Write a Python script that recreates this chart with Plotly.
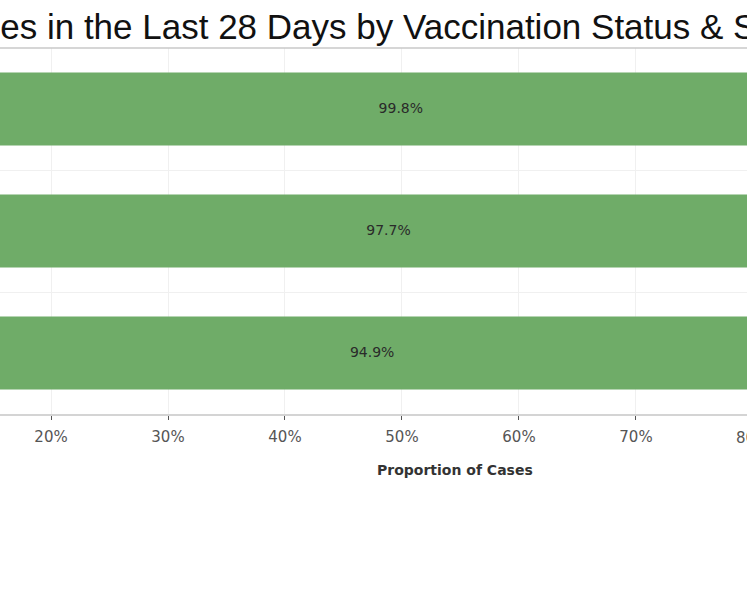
import plotly.graph_objects as go

groups = ["Group A", "Group B", "Group C"]
proportion = [99.8, 97.7, 94.9]
labels = ["99.8%", "97.7%", "94.9%"]

tick_vals = [20, 30, 40, 50, 60, 70, 80]
tick_text = ["20%", "30%", "40%", "50%", "60%", "70%", "80%"]

title_text = "Cases in the Last 28 Days by Vaccination Status & Sex"

# visible window of the x axis (the bars start at 0 off the left edge)
x_range = [15.64, 79.49]

bar_green = "#6FAC68"

fig = go.Figure()
fig.add_trace(go.Bar(
    y=groups, x=proportion, orientation="h",
    marker=dict(color=bar_green, line=dict(width=0)),
    hoverinfo="skip", showlegend=False,
))
# labels centred on the full bars
fig.add_trace(go.Scatter(
    y=groups, x=[v / 2 for v in proportion], mode="text",
    text=labels, textposition="middle center",
    textfont=dict(family="DejaVu Sans", size=14, color="#2a2a2a"),
    hoverinfo="skip", showlegend=False,
))

visible_ticks = [v for v in tick_vals if x_range[0] <= v <= x_range[1]]
fig.update_xaxes(
    range=x_range,
    tickvals=visible_ticks,
    ticktext=[tick_text[tick_vals.index(v)] for v in visible_ticks],
    ticks="outside", ticklen=4, tickcolor="#555555", tickwidth=1,
    ticklabelstandoff=4,
    tickfont=dict(family="DejaVu Sans", size=15, color="#555555"),
    showgrid=True, gridcolor="#f0f0f0", gridwidth=1,
    showline=True, linecolor="#d4d4d4", linewidth=2,
    zeroline=False, fixedrange=True,
)
fig.update_yaxes(
    type="category", autorange="reversed",
    tickson="boundaries", ticks="", showticklabels=False,
    showgrid=True, gridcolor="#f0f0f0", gridwidth=1,
    showline=False, zeroline=False, fixedrange=True,
)

# tick label that is cut by the right edge, placed through the axis mapping
cut_ticks = [v for v in tick_vals if v > x_range[1]]
annotations = []
for v in cut_ticks:
    annotations.append(dict(
        xref="paper", yref="paper",
        x=(v - x_range[0]) / (x_range[1] - x_range[0]), y=0,
        xanchor="center", yanchor="top", yshift=-13,
        text=tick_text[tick_vals.index(v)], showarrow=False,
        font=dict(family="DejaVu Sans", size=15, color="#555555"),
    ))

annotations.append(dict(
    xref="paper", yref="paper", x=0, y=1, xanchor="left", yanchor="bottom",
    xshift=-64, yshift=0,
    text=title_text, showarrow=False,
    font=dict(family="Liberation Sans, Arial", size=35, color="#111111"),
))
annotations.append(dict(
    xref="paper", yref="paper", x=(54.5 - x_range[0]) / (x_range[1] - x_range[0]), y=0,
    xanchor="center", yanchor="top", yshift=-46,
    text="<b>Proportion of Cases</b>", showarrow=False,
    font=dict(family="DejaVu Sans", size=14, color="#333333"),
))

fig.update_layout(
    width=747, height=598,
    margin=dict(l=0, r=0, t=48, b=184),
    paper_bgcolor="white", plot_bgcolor="white",
    bargap=0.4,
    annotations=annotations,
    shapes=[dict(type="line", xref="paper", yref="paper", x0=0, x1=1, y0=1, y1=1,
                 line=dict(color="#c8c8c8", width=1.5))],
)

# drop the browser's default body margin so the figure sits at the page corner
fig.write_html("out.html", config={"displayModeBar": False},
               post_script="document.body.style.margin='0';document.body.style.overflow='hidden';")
